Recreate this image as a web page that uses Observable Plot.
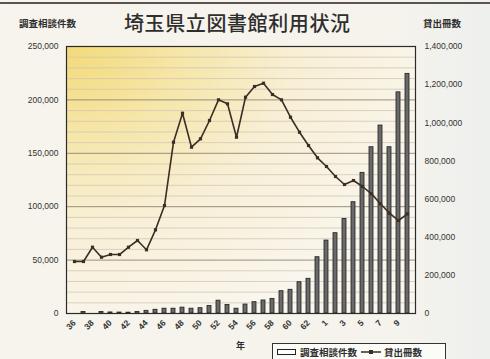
<!DOCTYPE html>
<html><head><meta charset="utf-8">
<script src="https://cdn.jsdelivr.net/npm/d3@7"></script>
<script src="https://cdn.jsdelivr.net/npm/@observablehq/plot@0.6"></script>
<style>
html,body{margin:0;padding:0;}
body{width:490px;height:359px;overflow:hidden;background:linear-gradient(90deg,#f6f4ec 0%,#f5f3ec 80%,#eef0ee 100%);font-family:"Noto Sans CJK JP","Liberation Sans",sans-serif;}
#wrap{position:relative;width:490px;height:359px;}
#chart{position:absolute;left:0;top:0;}
.t{position:absolute;white-space:nowrap;color:#2e2e2e;}
#title{left:124px;top:8px;font-size:20px;font-weight:500;letter-spacing:0.6px;}
#ltitle{left:19px;top:16px;font-size:9.5px;font-weight:700;}
#rtitle{left:423px;top:16px;font-size:9.5px;font-weight:700;}
#nen{left:236px;top:339px;font-size:9px;font-weight:700;}
#legend{position:absolute;left:272px;top:343px;width:174px;height:18px;border:1px solid #333;background:#fbfbf8;display:flex;align-items:center;font-size:9.5px;font-weight:700;color:#2e2e2e;box-sizing:border-box;padding-left:4px;}
#legend svg{flex:none;}
#topline{position:absolute;left:0;top:2px;width:490px;height:1.5px;background:#5a5550;}
</style></head>
<body>
<div id="wrap">
<div id="topline"></div>
<div id="chart"></div>
<div class="t" id="title">埼玉県立図書館利用状況</div>
<div class="t" id="ltitle">調査相談件数</div>
<div class="t" id="rtitle">貸出冊数</div>
<div class="t" id="nen">年</div>
<div id="legend">
<svg width="20" height="8"><rect x="0.5" y="1.5" width="18" height="5" fill="#fff" stroke="#222" stroke-width="1"/></svg>
<span style="margin:0 4px 0 3px">調査相談件数</span>
<svg width="20" height="8"><line x1="0" y1="4" x2="20" y2="4" stroke="#3a2e25" stroke-width="1.5"/><rect x="8" y="2" width="4" height="4" fill="#3a2e25"/></svg>
<span style="margin-left:3px">貸出冊数</span>
</div>
</div>
<script>
const years = ["36","37","38","39","40","41","42","43","44","45","46","47","48","49","50","51","52","53","54","55","56","57","58","59","60","61","62","63","1","2","3","4","5","6","7","8","9","10"];
const consults = [0,1500,0,1500,1000,900,800,1500,2500,3500,4500,4500,5500,4500,5000,7000,12000,8000,4500,8400,10600,12200,13700,20900,22200,29300,32500,52700,68300,75200,88600,104200,131700,155700,176000,155700,207100,224400];
const loans = [272600,272600,347600,295200,309300,309300,347600,382700,334000,438800,566200,898100,1050200,872000,916000,1011900,1120400,1099400,924400,1134100,1190200,1207500,1148200,1120400,1029200,950600,880800,816300,770700,718300,676300,697300,665900,627400,575200,525900,487600,522700];
const leftTicks = [0,50000,100000,150000,200000,250000];
const rightTicks = [0,200000,400000,600000,800000,1000000,1200000,1400000];
const xTickLabels = ["36","38","40","42","44","46","48","50","52","54","56","58","60","62","1","3","5","7","9"];

const k = 250000/1400000;
const rows = years.map((y,i)=>({year:y, consult:consults[i], loans:loans[i]}));
const minor = d3.range(10000,250000,10000).filter(v=>v%50000!==0);
const major = [50000,100000,150000,200000];
const fmt = d3.format(",");

const svg = Plot.plot({
  width:490, height:359,
  marginTop:46, marginBottom:46, marginLeft:66, marginRight:75,
  style:{background:"transparent", fontFamily:"'Liberation Sans', Arial, sans-serif", fontSize:"8.5px", color:"#333"},
  x:{type:"band", domain:years, paddingInner:0.55, paddingOuter:0.275},
  y:{domain:[0,250000]},
  marks:[
    Plot.frame({fill:"url(#plotbg)"}),
    Plot.ruleY(minor,{stroke:"#d2c8b2", strokeWidth:0.8}),
    Plot.ruleY(major,{stroke:"#8f8572", strokeWidth:0.9}),
    Plot.barY(rows.filter(d=>d.consult>0),{x:"year", y:"consult", fill:"#6a6a6a", stroke:"#1e1e1e", strokeWidth:0.8}),
    Plot.lineY(rows,{x:"year", y:d=>d.loans*k, stroke:"#3a2e25", strokeWidth:1.6}),
    Plot.dot(rows,{x:"year", y:d=>d.loans*k, symbol:"square", r:1.8, fill:"#3a2e25", stroke:"none"}),
    Plot.axisY(leftTicks,{anchor:"left", tickSize:0, tickPadding:8, tickFormat:fmt, label:null}),
    Plot.axisY(rightTicks.map(v=>v*k),{anchor:"right", tickSize:0, tickPadding:9, tickFormat:d=>fmt(Math.round(d/k)), label:null}),
    Plot.axisX(xTickLabels,{anchor:"bottom", tickSize:0, tickPadding:8, tickRotate:-45, label:null, fontWeight:"bold"}),
    Plot.frame({stroke:"#2b2b2b", strokeWidth:1.2})
  ]
});
const ns = "http://www.w3.org/2000/svg";
const defs = document.createElementNS(ns,"defs");
defs.innerHTML = '<radialGradient id="plotbg" cx="0" cy="0" r="1.1" gradientUnits="objectBoundingBox"><stop offset="0" stop-color="#f3da78"/><stop offset="0.3" stop-color="#f6e6a8"/><stop offset="0.6" stop-color="#f8efd6"/><stop offset="1" stop-color="#faf6ee"/></radialGradient>';
svg.insertBefore(defs, svg.firstChild);
document.getElementById("chart").appendChild(svg);
</script>
</body></html>
